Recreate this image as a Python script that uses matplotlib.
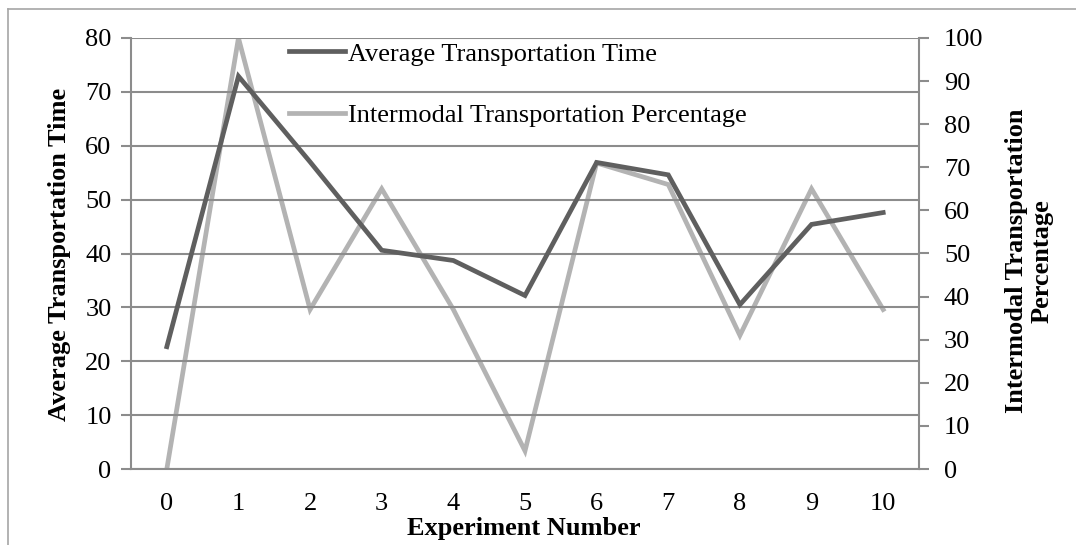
import matplotlib
matplotlib.use("Agg")
import matplotlib.pyplot as plt
from matplotlib.lines import Line2D

plt.rcParams['font.family'] = ['Liberation Serif', 'DejaVu Serif']

experiments = [0, 1, 2, 3, 4, 5, 6, 7, 8, 9, 10]
avg_time = [22.7, 72.9, 57.0, 40.6, 38.7, 32.2, 56.9, 54.6, 30.5, 45.4, 47.6]
intermodal_pct = [0, 100, 37, 65, 37, 4.2, 71, 66, 31, 65, 37]
left_ticks = [0, 10, 20, 30, 40, 50, 60, 70, 80]
right_ticks = [0, 10, 20, 30, 40, 50, 60, 70, 80, 90, 100]

dark = '#5f5f5f'
light = '#b3b3b3'
grid = '#8c8c8c'
FS = 19

W, H = 1076, 545
fig = plt.figure(figsize=(W/100, H/100), dpi=100)
ax = fig.add_axes([131/W, 1-469/H, (919-131)/W, (469-38)/H])
ax2 = ax.twinx()

xpos = list(range(len(experiments)))
l1, = ax.plot(xpos, avg_time, color=dark, lw=3.4, solid_joinstyle='miter', zorder=3)
l2, = ax2.plot(xpos, intermodal_pct, color=light, lw=3.4, solid_joinstyle='miter', zorder=3)

ax.set_xlim(-0.5, len(experiments) - 0.5)
ax.set_ylim(0, 80)
ax2.set_ylim(0, 100)
ax.set_yticks(left_ticks)
ax2.set_yticks(right_ticks)
ax.set_xticks(xpos)
ax.set_xticklabels([str(e) for e in experiments])

ax.yaxis.grid(True, color=grid, lw=1.5)
ax.set_axisbelow(True)
for a in (ax, ax2):
    for s in a.spines.values():
        s.set_visible(False)
for a, side in ((ax, 'left'), (ax, 'bottom'), (ax2, 'right')):
    a.spines[side].set_visible(True)
    a.spines[side].set_color(grid)
    a.spines[side].set_linewidth(1.5)

ax.tick_params(axis='y', direction='out', length=7, width=1.5, color=grid, labelsize=FS, pad=7)
ax.tick_params(axis='x', length=0, labelsize=FS, pad=17)
ax2.tick_params(axis='y', direction='out', length=7, width=1.5, color=grid, labelsize=FS, pad=11)

fig.text(60/W, 1-254/H, 'Average Transportation Time', fontsize=FS, fontweight='bold',
         rotation=90, ha='center', va='center')
fig.text(1029/W, 1-261/H, 'Intermodal Transportation\nPercentage', fontsize=FS,
         fontweight='bold', rotation=90, ha='center', va='center', multialignment='center',
         linespacing=1.15)
fig.text(524/W, 1-528/H, 'Experiment Number', fontsize=FS, fontweight='bold',
         ha='center', va='center')

ax.set_zorder(ax2.get_zorder() + 1)
ax.patch.set_visible(False)

ax.legend([l1, l2], ['Average Transportation Time', 'Intermodal Transportation Percentage'],
          loc='upper left', bbox_to_anchor=(268/W, 1-21/H), bbox_transform=fig.transFigure,
          frameon=False, fontsize=FS, borderpad=0.3,
          handlelength=2.1, handletextpad=0.12, labelspacing=1.45)

# chart-area border (top and left edges visible)
fig.add_artist(Line2D([8/W, 1.0], [1-9/H, 1-9/H], color='#a6a6a6', lw=1.2))
fig.add_artist(Line2D([8/W, 8/W], [0.0, 1-9/H], color='#a6a6a6', lw=1.2))

fig.savefig('out.png', dpi=100)
